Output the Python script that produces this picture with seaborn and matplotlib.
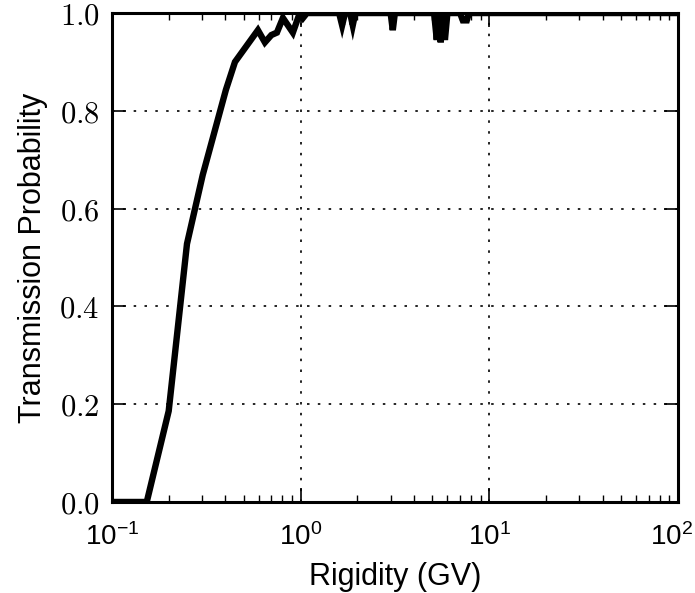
import matplotlib
matplotlib.use("Agg")
import matplotlib.pyplot as plt
import matplotlib.ticker as mticker
import matplotlib.transforms as mtransforms
import seaborn as sns
import pandas as pd

# === DATA ===
rigidity = [0.1, 0.153, 0.2, 0.25, 0.303, 0.402, 0.449, 0.594, 0.647, 0.70,
            0.749, 0.806, 0.91, 0.99, 1.03, 1.08, 1.6, 1.66, 1.72, 1.83,
            1.89, 1.95, 3.0, 3.08, 3.16, 5.1, 5.27, 5.4, 5.53, 5.65,
            5.82, 6.0, 7.0, 7.24, 7.6, 7.8, 100.0]
transmission = [0.0, 0.0, 0.186, 0.528, 0.669, 0.843, 0.90, 0.965, 0.94, 0.955,
                0.96, 0.99, 0.96, 1.0, 0.99, 1.0, 1.0, 0.975, 1.0, 1.0,
                0.975, 1.0, 1.0, 0.965, 1.0, 1.0, 0.945, 1.0, 0.94, 1.0,
                0.945, 1.0, 1.0, 0.985, 0.985, 1.0, 1.0]

x_ticks = [0.1, 1, 10, 100]
y_ticks = [0.0, 0.2, 0.4, 0.6, 0.8, 1.0]
x_label = "Rigidity (GV)"
y_label = "Transmission Probability"

# === STYLE CONFIGURATION ===
sns.set_theme(style="ticks", rc={
    "xtick.direction": "in", "ytick.direction": "in",
    "xtick.top": True, "ytick.right": True,
    "xtick.major.size": 10, "ytick.major.size": 10,
    "xtick.minor.size": 5, "ytick.minor.size": 5,
    "xtick.major.width": 1.2, "ytick.major.width": 1.2,
    "xtick.minor.width": 1.0,
    "axes.linewidth": 2.2, "axes.edgecolor": "black",
    "xtick.color": "black", "ytick.color": "black",
    "text.color": "black", "axes.labelcolor": "black",
})
plt.rcParams["font.family"] = ["Liberation Sans", "DejaVu Sans"]
plt.rcParams["mathtext.fontset"] = "cm"

df = pd.DataFrame({"rigidity": rigidity, "transmission": transmission})

fig = plt.figure(figsize=(6.95, 5.93), dpi=100)
ax = fig.add_axes([0.161, 0.1535, 0.8145, 0.8245])

sns.lineplot(data=df, x="rigidity", y="transmission", ax=ax, color="black",
             linewidth=4.6, estimator=None, sort=False)
for line in ax.lines:
    line.set_solid_joinstyle("miter")

ax.set_xscale("log")
ax.set_xticks(x_ticks)
ax.set_xlim(0.1, 100)
ax.set_ylim(0, 1)
ax.set_yticks(y_ticks)
ax.yaxis.set_major_formatter(mticker.FuncFormatter(lambda v, p: f"${v:.1f}$"))
ax.xaxis.set_major_formatter(mticker.LogFormatterMathtext())
ax.tick_params(axis="y", which="major", labelsize=22, pad=9, labelcolor="black")
ax.tick_params(axis="x", which="major", labelsize=20, pad=15, labelcolor="black")
ax.tick_params(axis="x", which="minor", top=True, direction="in")

# nudge the last x label (10^2) left so it stays inside the canvas
last = ax.xaxis.get_major_ticks()[-1].label1
last.set_transform(last.get_transform() +
                   mtransforms.ScaledTranslation(-5 / 72, 0, fig.dpi_scale_trans))

ax.grid(True, which="major", color="black", linestyle=(0, (1.5, 5)), linewidth=1.2)
ax.set_axisbelow(False)

ax.set_xlabel(x_label, fontsize=22, labelpad=8)
ax.set_ylabel(y_label, fontsize=22, labelpad=8)

fig.savefig("out.png", dpi=100)
plt.close(fig)
